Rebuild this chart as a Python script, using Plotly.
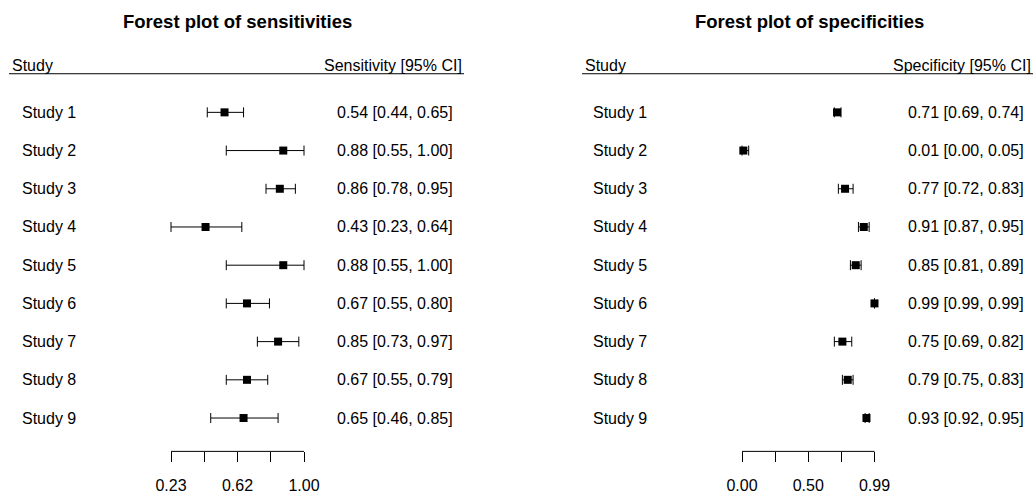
import plotly.graph_objects as go

# ---- data -------------------------------------------------------------
studies = [f"Study {i}" for i in range(1, 10)]

sens_est = [0.54, 0.88, 0.86, 0.43, 0.88, 0.67, 0.85, 0.67, 0.65]
sens_lo = [0.44, 0.55, 0.78, 0.23, 0.55, 0.55, 0.73, 0.55, 0.46]
sens_hi = [0.65, 1.00, 0.95, 0.64, 1.00, 0.80, 0.97, 0.79, 0.85]

spec_est = [0.71, 0.01, 0.77, 0.91, 0.85, 0.99, 0.75, 0.79, 0.93]
spec_lo = [0.69, 0.00, 0.72, 0.87, 0.81, 0.99, 0.69, 0.75, 0.92]
spec_hi = [0.74, 0.05, 0.83, 0.95, 0.89, 0.99, 0.82, 0.83, 0.95]

sens_ticks = [0.23, 0.4225, 0.615, 0.8075, 1.00]
sens_ticktext = ["0.23", "", "0.62", "", "1.00"]
spec_ticks = [0.00, 0.2475, 0.495, 0.7425, 0.99]
spec_ticktext = ["0.00", "", "0.50", "", "0.99"]

# ---- page geometry (pixels) ---------------------------------------------
W, H = 1036, 494
FONT = "Liberation Sans, Arial, Helvetica, sans-serif"
rows = list(range(1, len(studies) + 1))

ROW1_PX, ROW_STEP = 113.5, 38.6
AXIS_PX = 456


def px_x(p):
    return p / W


def px_y(p):
    return 1 - p / H


def axis_range(dom_px0, dom_px1, v0, p0, v1, p1):
    """Data range for an axis whose domain spans [dom_px0, dom_px1] pixels
    so that value v0 sits at pixel p0 and v1 at pixel p1."""
    scale = (p1 - p0) / (v1 - v0)
    r0 = v0 - (p0 - dom_px0) / scale
    r1 = r0 + (dom_px1 - dom_px0) / scale
    return [r0, r1]


y_top = 1 - ROW1_PX / ROW_STEP
y_bot = y_top + H / ROW_STEP

panels = [
    dict(est=sens_est, lo=sens_lo, hi=sens_hi, ticks=sens_ticks, ticktext=sens_ticktext,
         dom=(0, 518), map=(0.23, 171, 1.00, 304), xa="x",
         title="Forest plot of sensitivities", title_x=237.5,
         head_l=10, head_r=464, study_x=19.5, val_r=455, col="Sensitivity [95% CI]"),
    dict(est=spec_est, lo=spec_lo, hi=spec_hi, ticks=spec_ticks, ticktext=spec_ticktext,
         dom=(518, 1036), map=(0.00, 742, 0.99, 874.5), xa="x2",
         title="Forest plot of specificities", title_x=809,
         head_l=583, head_r=1033, study_x=590.5, val_r=1026, col="Specificity [95% CI]"),
]

fig = go.Figure()
annotations = []
shapes = []
layout_axes = {}

for i, p in enumerate(panels):
    est, lo, hi = p["est"], p["lo"], p["hi"]
    fig.add_trace(go.Scatter(
        x=est, y=rows, mode="markers", xaxis=p["xa"], yaxis="y",
        marker=dict(symbol="square", size=8, color="black"),
        error_x=dict(type="data", symmetric=False,
                     array=[h - e for h, e in zip(hi, est)],
                     arrayminus=[e - l for e, l in zip(est, lo)],
                     color="black", thickness=1, width=5),
        cliponaxis=False, showlegend=False, hoverinfo="skip",
    ))

    d0, d1 = p["dom"]
    v0, p0, v1, p1 = p["map"]
    key = "xaxis" if i == 0 else "xaxis2"
    layout_axes[key] = dict(
        domain=[px_x(d0), px_x(d1)],
        range=axis_range(d0, d1, v0, p0, v1, p1),
        anchor="free", position=px_y(AXIS_PX),
        showgrid=False, zeroline=False, showline=False,
        ticks="outside", ticklen=10, tickwidth=1, tickcolor="black",
        tickvals=p["ticks"], ticktext=p["ticktext"],
        tickfont=dict(family=FONT, size=16, color="black"),
        ticklabelstandoff=9,
    )
    # axis line spanning first to last tick
    shapes.append(dict(type="line", xref=p["xa"], yref="paper",
                       x0=p["ticks"][0], x1=p["ticks"][-1],
                       y0=px_y(AXIS_PX), y1=px_y(AXIS_PX),
                       line=dict(color="black", width=1)))
    # header underline
    shapes.append(dict(type="line", xref="paper", yref="paper",
                       x0=px_x(p["head_l"] - 1), x1=px_x(p["head_r"]),
                       y0=px_y(74.5), y1=px_y(74.5),
                       line=dict(color="black", width=1)))

    # title
    annotations.append(dict(text=f"<b>{p['title']}</b>", xref="paper", yref="paper",
                            x=px_x(p["title_x"]), y=px_y(22), xanchor="center",
                            yanchor="middle", showarrow=False,
                            font=dict(family=FONT, size=18.5, color="black")))
    # column headers
    annotations.append(dict(text="Study", xref="paper", yref="paper",
                            x=px_x(p["head_l"]), y=px_y(66.5), xanchor="left",
                            yanchor="middle", showarrow=False,
                            font=dict(family=FONT, size=16, color="black")))
    annotations.append(dict(text=p["col"], xref="paper", yref="paper",
                            x=px_x(p["head_r"]), y=px_y(66.5), xanchor="right",
                            yanchor="middle", showarrow=False,
                            font=dict(family=FONT, size=16, color="black")))
    # study labels and estimate text
    for r, name, e, l, h in zip(rows, studies, est, lo, hi):
        annotations.append(dict(text=name, xref="paper", yref="y",
                                x=px_x(p["study_x"]), y=r, xanchor="left",
                                yanchor="middle", showarrow=False,
                                font=dict(family=FONT, size=16, color="black")))
        annotations.append(dict(text=f"{e:.2f} [{l:.2f}, {h:.2f}]",
                                xref="paper", yref="y",
                                x=px_x(p["val_r"]), y=r, xanchor="right",
                                yanchor="middle", showarrow=False,
                                font=dict(family=FONT, size=16, color="black")))

fig.update_layout(
    width=W, height=H, autosize=False,
    margin=dict(l=0, r=0, t=0, b=0),
    paper_bgcolor="white", plot_bgcolor="white",
    yaxis=dict(range=[y_bot, y_top], visible=False, domain=[0, 1]),
    annotations=annotations, shapes=shapes,
    **layout_axes,
)

fig.write_html("out.html")
